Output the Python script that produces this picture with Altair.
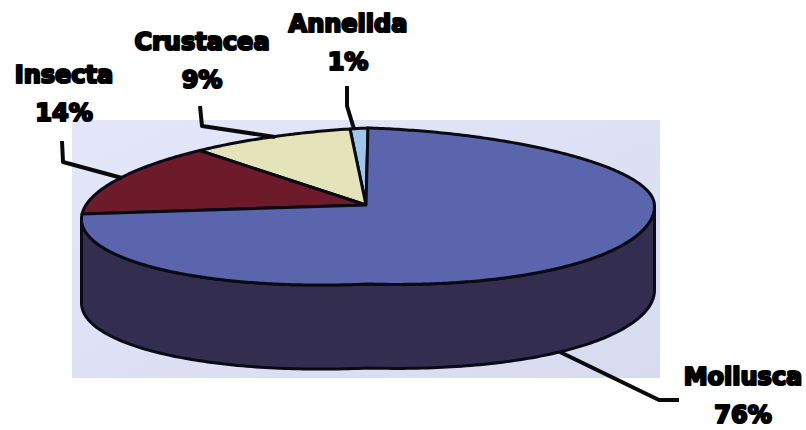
import numpy as np
import altair as alt

# Share of each group, going anticlockwise from twelve o'clock
groups = ["Annelida", "Crustacea", "Insecta", "Mollusca"]
shares = [1, 9, 14, 76]
fills = ["#9fc6ea", "#e4e3ba", "#6d1a2b", "#5b65ad"]
side_fill = "#332e50"
label_lines = [["Annelida", "1%"], ["Crustacea", "9%"], ["Insecta", "14%"], ["Mollusca", "76%"]]
label_anchor = [(348, 25), (202, 43), (64, 76), (743, 378)]
leaders = [
    [(347, 86), (347, 106), (354, 129)],
    [(200, 106), (202, 126), (275, 137)],
    [(62, 141), (63, 162), (122, 178)],
    [(560, 352), (659, 400), (679, 400)],
]

W, H = 806, 430
CX, CY, RX, RY = 368.0, 206.0, 286.5, 78.0
APEX = (366.0, 205.0)
DEPTH = 84.0


def rim(a):
    """Point on the tilted disc's rim, a in degrees anticlockwise from the top."""
    r = np.radians(a)
    s, c = np.sin(r), np.cos(r)
    sag = 13 * s if s > 0 else 0.0
    sag += 8 * max(-s, 0) * max(-c, 0)
    sag += 9 * max(-s, 0) * max(c, 0)
    return (float(CX - RX * s), float(CY - RY * c + sag))


def feature(name, coords, kind="Polygon"):
    geom = [coords + [coords[0]]] if kind == "Polygon" else coords
    return {"type": "Feature", "properties": {"name": name},
            "geometry": {"type": kind, "coordinates": geom}}


# Thick wall: front half of the rim, then the same curve pushed down by the depth
front = [rim(a) for a in np.linspace(90, 270, 181)]
wall = front + [(x, y + DEPTH) for x, y in reversed(front)]

# Pie wedges on the top face
wedges = []
start = 0.0
for name, share in zip(groups, shares):
    end = start + share * 3.6
    arc = [rim(a) for a in np.linspace(start, end, max(int(share * 6), 3))]
    wedges.append(feature(name, [APEX] + arc))
    start = end

projection = dict(type="identity", scale=1, translate=[0, 0])

panel = alt.Chart(alt.Data(values=[{"p": 1}])).mark_rect(
    color=alt.Gradient(gradient="linear", x1=0, y1=0, x2=1, y2=1,
                       stops=[alt.GradientStop(color="#e4e6f9", offset=0),
                              alt.GradientStop(color="#d8daf0", offset=1)])
).encode(x=alt.value(72), x2=alt.value(660), y=alt.value(120), y2=alt.value(378))

side = alt.Chart(alt.Data(values=[feature("wall", wall)])).mark_geoshape(
    fill=side_fill, stroke="#0a0a14", strokeWidth=3, strokeJoin="round"
).project(**projection)

top = alt.Chart(alt.Data(values=wedges)).mark_geoshape(
    stroke="#0a0a14", strokeWidth=3, strokeJoin="round"
).encode(
    fill=alt.Fill("properties.name:N", scale=alt.Scale(domain=groups, range=fills), legend=None)
).project(**projection)

leader_lines = alt.Chart(alt.Data(values=[
    feature(g, [list(p) for p in pts], "LineString") for g, pts in zip(groups, leaders)
])).mark_geoshape(
    filled=False, stroke="#0a0a0a", strokeWidth=4, strokeJoin="round"
).project(**projection)

layers = [panel, side, top, leader_lines]
for lines, (lx, ly) in zip(label_lines, label_anchor):
    for i, line in enumerate(lines):
        layers.append(
            alt.Chart(alt.Data(values=[{"t": line}])).mark_text(
                font="DejaVu Sans", fontWeight="bold", fontSize=24, align="center",
                baseline="middle", color="black", stroke="black", strokeWidth=2.2,
                strokeJoin="round",
            ).encode(text="t:N", x=alt.value(lx), y=alt.value(ly + i * 38))
        )

chart = alt.layer(*layers).properties(
    width=W, height=H, padding=0, autosize=alt.AutoSizeParams(type="none"), background="white"
).configure_view(stroke=None)

chart.save("out.html", embed_options={"renderer": "svg", "actions": False})
